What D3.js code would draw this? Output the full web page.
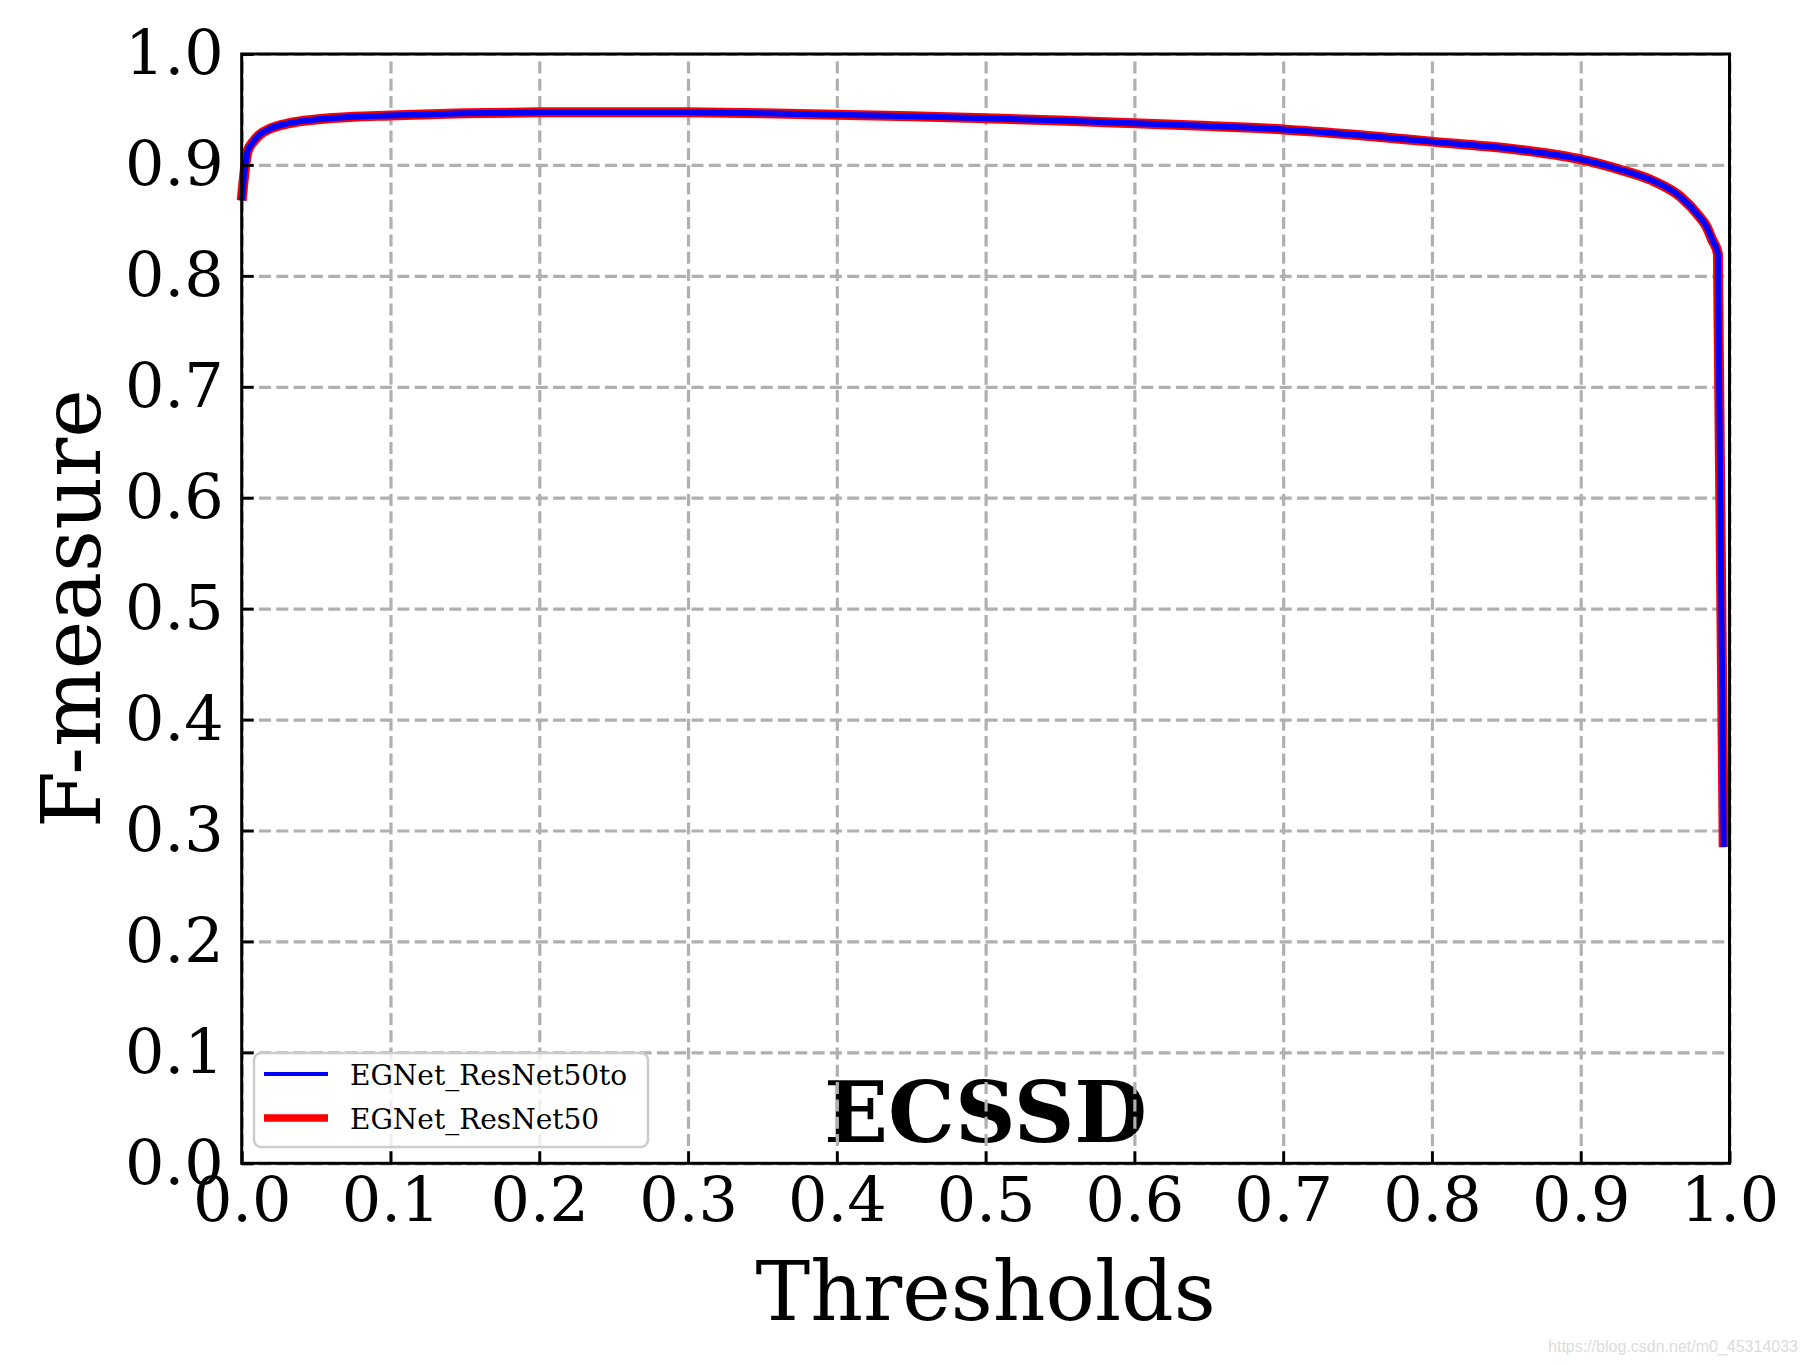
<!DOCTYPE html>
<html>
<head>
<meta charset="utf-8">
<script src="https://cdn.jsdelivr.net/npm/d3@7"></script>
<style>
  body { margin: 0; background: #fff; }
  svg { display: block; font-family: "DejaVu Serif", serif; }
</style>
</head>
<body>
<div id="chart"></div>
<script>
// thresholds (i/255 style steps) and F-measure
var thresholds = [0, 0.0039, 0.0078, 0.0118, 0.0196, 0.0314, 0.05, 0.075, 0.1, 0.15, 0.2, 0.25, 0.3, 0.35, 0.4, 0.45, 0.5, 0.55, 0.6, 0.65, 0.7, 0.75, 0.8, 0.85, 0.886, 0.9, 0.927, 0.947, 0.967, 0.98, 0.9843, 0.9882, 0.9922, 0.9961];
var fmResNet50to = [0.868, 0.912, 0.921, 0.927, 0.933, 0.9375, 0.941, 0.9435, 0.9445, 0.9465, 0.9474, 0.9476, 0.9474, 0.9465, 0.9452, 0.9438, 0.942, 0.940, 0.9375, 0.935, 0.932, 0.927, 0.921, 0.915, 0.9085, 0.905, 0.8955, 0.8866, 0.8714, 0.853, 0.845, 0.833, 0.820, 0.285];
var fmResNet50 = [0.868, 0.912, 0.921, 0.927, 0.933, 0.9375, 0.941, 0.9435, 0.9445, 0.9465, 0.9474, 0.9476, 0.9474, 0.9465, 0.9452, 0.9438, 0.942, 0.940, 0.9375, 0.935, 0.932, 0.927, 0.921, 0.915, 0.9085, 0.905, 0.8955, 0.8866, 0.8714, 0.853, 0.845, 0.833, 0.820, 0.285];
var seriesNames = ["EGNet_ResNet50to", "EGNet_ResNet50"];
var tickValues = [0, 0.1, 0.2, 0.3, 0.4, 0.5, 0.6, 0.7, 0.8, 0.9, 1.0];

var W = 1808, H = 1365;
var margin = {top: 54, right: 78.5, bottom: 201.7, left: 241.7};
var width = W - margin.left - margin.right;
var height = H - margin.top - margin.bottom;

var svg = d3.select("#chart").append("svg")
    .attr("width", W)
    .attr("height", H);

var g = svg.append("g")
    .attr("transform", "translate(" + margin.left + "," + margin.top + ")");

var x = d3.scaleLinear().domain([0, 1]).range([0, width]);
var y = d3.scaleLinear().domain([0, 1]).range([height, 0]);

// dataset name, sits under the grid
g.append("text")
    .attr("x", width / 2)
    .attr("y", 1142 - margin.top)
    .attr("text-anchor", "middle")
    .attr("font-weight", "bold")
    .attr("font-size", 84)
    .text("ECSSD");

// grid
g.append("g")
    .attr("class", "grid")
    .attr("transform", "translate(0," + height + ")")
    .call(d3.axisBottom(x).tickValues(tickValues).tickSize(-height).tickFormat(""));
g.append("g")
    .attr("class", "grid")
    .call(d3.axisLeft(y).tickValues(tickValues).tickSize(-width).tickFormat(""));
g.selectAll(".grid .domain").remove();
g.selectAll(".grid line")
    .attr("stroke", "#b0b0b0")
    .attr("stroke-width", 3.2)
    .attr("stroke-dasharray", "12,5.3");

// curves
var line = d3.line()
    .x(function(d) { return x(d[0]); })
    .y(function(d) { return y(d[1]); })
    .curve(d3.curveMonotoneX);

g.append("path")
    .datum(d3.zip(thresholds, fmResNet50))
    .attr("fill", "none")
    .attr("stroke", "#ff0000")
    .attr("stroke-width", 10)
    .attr("d", line);

g.append("path")
    .datum(d3.zip(thresholds, fmResNet50to))
    .attr("fill", "none")
    .attr("stroke", "#0000ff")
    .attr("stroke-width", 6)
    .attr("d", line);

// axes, ticks pointing in
var xAxis = g.append("g")
    .attr("transform", "translate(0," + height + ")")
    .call(d3.axisBottom(x).tickValues(tickValues).tickSizeInner(-12).tickSizeOuter(0).tickPadding(14).tickFormat(d3.format(".1f")));
var yAxis = g.append("g")
    .call(d3.axisLeft(y).tickValues(tickValues).tickSizeInner(-12).tickSizeOuter(0).tickPadding(18).tickFormat(d3.format(".1f")));

[xAxis, yAxis].forEach(function(a) {
  a.select(".domain").remove();
  a.selectAll("line").attr("stroke", "#000").attr("stroke-width", 2.8);
  a.selectAll("text")
    .attr("font-family", "DejaVu Serif, serif")
    .attr("font-size", 62)
    .attr("fill", "#000");
});

// spines
g.append("rect")
    .attr("width", width)
    .attr("height", height)
    .attr("fill", "none")
    .attr("stroke", "#000")
    .attr("stroke-width", 3);

// axis labels
svg.append("text")
    .attr("x", margin.left + width / 2)
    .attr("y", 1320)
    .attr("text-anchor", "middle")
    .attr("font-size", 82)
    .text("Thresholds");

svg.append("text")
    .attr("transform", "translate(100," + (margin.top + height / 2) + ") rotate(-90)")
    .attr("text-anchor", "middle")
    .attr("font-size", 82)
    .text("F-measure");

// legend
var legend = g.append("g")
    .attr("transform", "translate(" + (254 - margin.left) + "," + (1053 - margin.top) + ")");

legend.append("rect")
    .attr("width", 394)
    .attr("height", 94)
    .attr("rx", 7)
    .attr("fill", "#fff")
    .attr("fill-opacity", 0.8)
    .attr("stroke", "#cccccc")
    .attr("stroke-width", 2.5);

var legendStyle = [
  {color: "#0000ff", w: 4, y: 21},
  {color: "#ff0000", w: 7.5, y: 65}
];

legend.selectAll(".item")
    .data(seriesNames)
    .enter().append("g")
    .attr("class", "item")
    .each(function(name, i) {
      var s = legendStyle[i];
      var item = d3.select(this);
      item.append("line")
          .attr("x1", 10).attr("x2", 74)
          .attr("y1", s.y).attr("y2", s.y)
          .attr("stroke", s.color)
          .attr("stroke-width", s.w);
      item.append("text")
          .attr("x", 96)
          .attr("y", s.y + 11)
          .attr("font-size", 28)
          .text(name);
    });

// watermark
svg.append("text")
    .attr("x", 1798)
    .attr("y", 1352)
    .attr("text-anchor", "end")
    .attr("font-family", "Liberation Sans, Arial, sans-serif")
    .attr("font-size", 16)
    .attr("fill", "#dcdcdc")
    .text("https://blog.csdn.net/m0_45314033");
</script>
</body>
</html>
